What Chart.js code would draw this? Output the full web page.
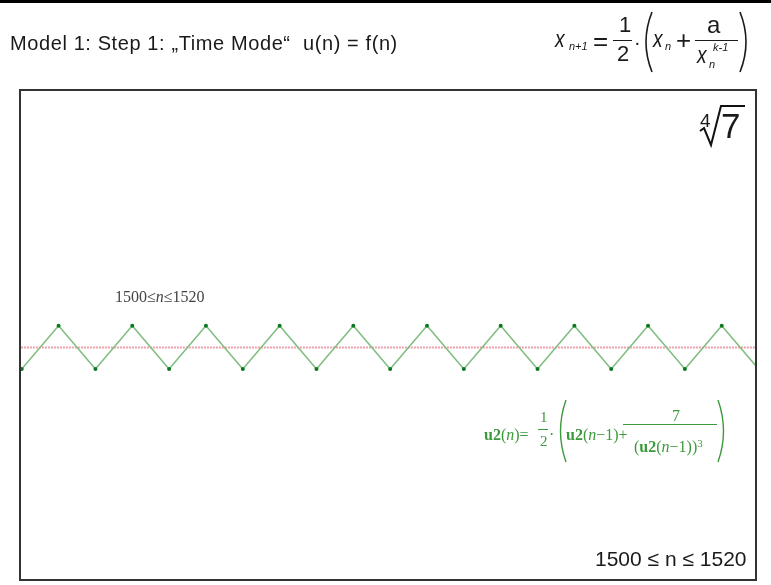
<!DOCTYPE html>
<html>
<head>
<meta charset="utf-8">
<script src="https://cdn.jsdelivr.net/npm/chart.js@4/dist/chart.umd.min.js"></script>
<style>
  body { margin: 0; background: #fff; }
  #wrap { position: relative; width: 771px; height: 585px; overflow: hidden; }
  #chartCanvas { position: absolute; left: 0; top: 0; }
  .t { position: absolute; line-height: 1; white-space: pre; font-family: Arial, "Liberation Sans", sans-serif; color: #1a1a1a; }
  .s { font-family: "Times New Roman", "Liberation Serif", serif; }
  .g { color: #3c9a3c; }
  .bar { position: absolute; height: 1px; background: #1a1a1a; }
  .gbar { position: absolute; height: 1px; background: #3c9a3c; }
  .nx { transform: scaleX(0.8); transform-origin: left top; font-style: italic; }
</style>
</head>
<body>
<div id="wrap">
  <canvas id="chartCanvas" width="771" height="585"></canvas>

  <div style="position:absolute;left:0;top:0;width:771px;height:3px;background:#000;"></div>
  <div style="position:absolute;left:19px;top:89px;width:738px;height:492px;box-sizing:border-box;border:2px solid #333;"></div>

  <!-- title -->
  <div class="t" style="left:10px;top:33px;font-size:20px;letter-spacing:0.6px;">Model 1: Step 1: „Time Mode“  u(n) = f(n)</div>

  <!-- top-right formula -->
  <div class="t nx" style="left:555px;top:26.7px;font-size:24px;">x</div>
  <div class="t" style="left:569px;top:40.7px;font-size:11px;font-style:italic;">n+1</div>
  <div class="t" style="left:593px;top:27.6px;font-size:26px;">=</div>
  <div class="t" style="left:619px;top:14.4px;font-size:22px;">1</div>
  <div class="bar" style="left:613px;top:40px;width:19px;"></div>
  <div class="t" style="left:617px;top:43.4px;font-size:22px;">2</div>
  <div class="t" style="left:634px;top:32px;font-size:20px;">·</div>
  <div class="t nx" style="left:653px;top:26.7px;font-size:24px;">x</div>
  <div class="t" style="left:665px;top:40.7px;font-size:11px;font-style:italic;">n</div>
  <div class="t" style="left:676px;top:27px;font-size:26px;">+</div>
  <div class="t" style="left:707px;top:12.7px;font-size:24px;">a</div>
  <div class="bar" style="left:695px;top:40px;width:43px;"></div>
  <div class="t nx" style="left:697px;top:42.7px;font-size:24px;">x</div>
  <div class="t" style="left:709px;top:58.7px;font-size:11px;font-style:italic;">n</div>
  <div class="t" style="left:713px;top:41.7px;font-size:11px;font-style:italic;">k-1</div>

  <!-- fourth root of 7 -->
  <div class="t" style="left:700px;top:111px;font-size:19px;">4</div>
  <svg style="position:absolute;left:0;top:0;" width="771" height="585">
    <polyline points="700,131 704,128 711,145 721,106 745,106" fill="none" stroke="#111" stroke-width="2"/>
    <path d="M652,12 Q640,42 652,72" fill="none" stroke="#1a1a1a" stroke-width="1.6"/>
    <path d="M740,12 Q752,42 740,72" fill="none" stroke="#1a1a1a" stroke-width="1.6"/>
    <path d="M566,400 Q555,431 566,462" fill="none" stroke="#3c9a3c" stroke-width="1.4"/>
    <path d="M718,400 Q729,431 718,462" fill="none" stroke="#3c9a3c" stroke-width="1.4"/>
  </svg>
  <div class="t" style="left:721px;top:108.4px;font-size:35px;">7</div>

  <!-- labels -->
  <div class="t s" style="left:115px;top:288.6px;font-size:16px;color:#444;">1500≤<i>n</i>≤1520</div>
  <div class="t" style="left:595px;top:548px;font-size:21px;">1500 ≤ n ≤ 1520</div>

  <!-- green recursion formula -->
  <div class="t s g" style="left:484px;top:426.6px;font-size:16px;"><b>u2</b>(<i>n</i>)=</div>
  <div class="t s g" style="left:540px;top:409.6px;font-size:15px;">1</div>
  <div class="gbar" style="left:538px;top:429px;width:10px;"></div>
  <div class="t s g" style="left:540px;top:434.4px;font-size:15px;">2</div>
  <div class="t s g" style="left:549px;top:426.6px;font-size:16px;">·</div>
  <div class="t s g" style="left:566px;top:426.6px;font-size:16px;"><b>u2</b>(<i>n</i>−1)+</div>
  <div class="t s g" style="left:672px;top:407.6px;font-size:16px;">7</div>
  <div class="gbar" style="left:623px;top:424px;width:94px;"></div>
  <div class="t s g" style="left:634px;top:438.6px;font-size:16px;">(<b>u2</b>(<i>n</i>−1))<span style="font-size:11px;position:relative;top:-5px;">3</span></div>
</div>

<script>
// ============================================
// DATA
// ============================================
const nValues = [1500, 1501, 1502, 1503, 1504, 1505, 1506, 1507, 1508, 1509, 1510,
                 1511, 1512, 1513, 1514, 1515, 1516, 1517, 1518, 1519, 1520];
const uValues = [1.6118, 1.6415, 1.6118, 1.6415, 1.6118, 1.6415, 1.6118, 1.6415, 1.6118, 1.6415, 1.6118,
                 1.6415, 1.6118, 1.6415, 1.6118, 1.6415, 1.6118, 1.6415, 1.6118, 1.6415, 1.6118];
const rootLineN = [1499, 1521];
const rootLineU = [1.6266, 1.6266];

const X_MIN = 1499.98;
const X_MAX = 1519.93;
const Y_MIN = 1.4678;
const Y_MAX = 1.8025;

function toPoints(xs, ys) {
    return xs.map(function(x, i) {
        return { x: x, y: ys[i] };
    });
}

const ctx = document.getElementById("chartCanvas").getContext("2d");

new Chart(ctx, {
    type: 'line',
    data: {
        datasets: [{
            label: 'root',
            data: toPoints(rootLineN, rootLineU),
            borderColor: 'rgb(236, 160, 170)',
            borderWidth: 2,
            borderDash: [2, 1],
            pointRadius: 0,
            order: 2
        }, {
            label: 'u2(n)',
            data: toPoints(nValues, uValues),
            borderColor: 'rgb(130, 190, 130)',
            borderWidth: 1.5,
            tension: 0,
            pointRadius: 2,
            pointBackgroundColor: 'rgb(10, 120, 30)',
            pointBorderWidth: 0,
            order: 1
        }]
    },
    options: {
        responsive: false,
        animation: false,
        layout: { padding: { left: 21, top: 91, right: 15, bottom: 6 } },
        plugins: {
            legend: { display: false },
            tooltip: { enabled: false }
        },
        scales: {
            x: { type: 'linear', min: X_MIN, max: X_MAX, display: false },
            y: { min: Y_MIN, max: Y_MAX, display: false }
        }
    }
});
</script>
</body>
</html>
